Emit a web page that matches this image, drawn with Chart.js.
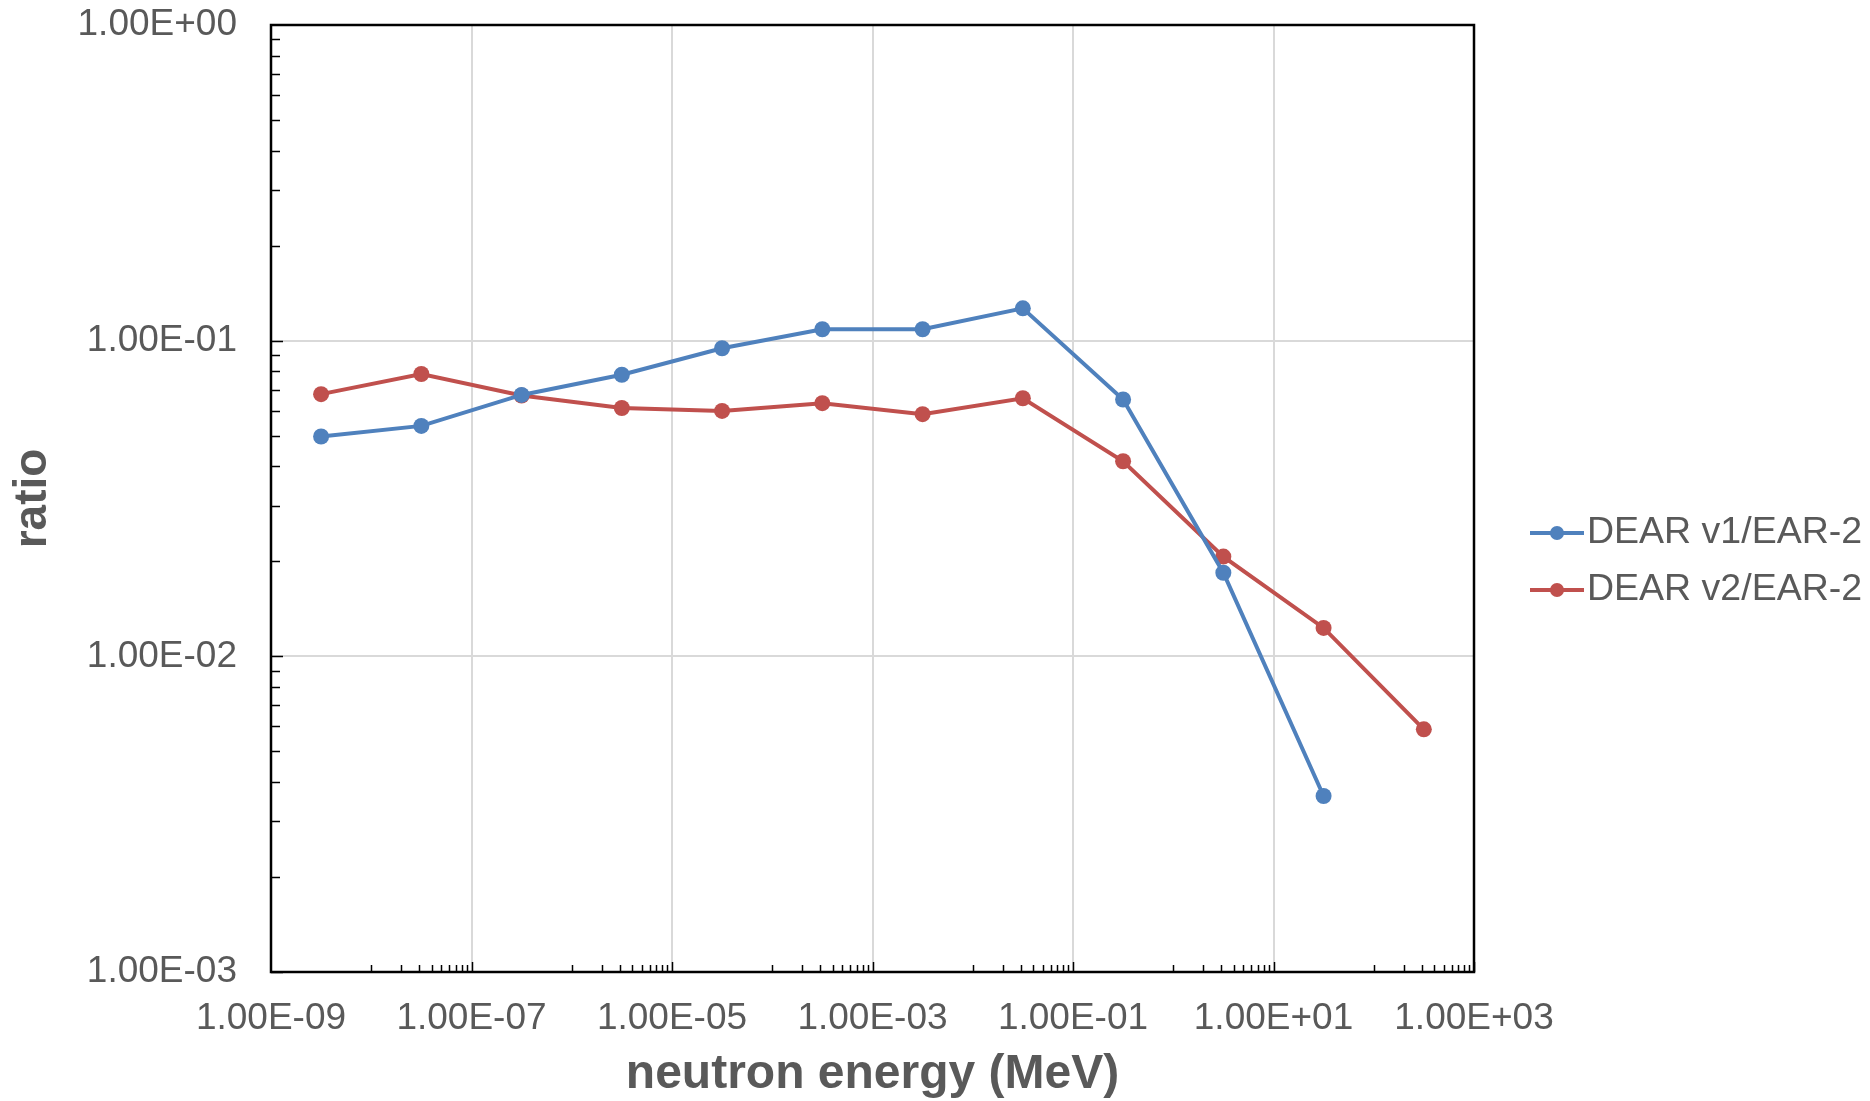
<!DOCTYPE html>
<html>
<head>
<meta charset="utf-8">
<script src="https://cdn.jsdelivr.net/npm/chart.js@4.4.1/dist/chart.umd.min.js"></script>
<style>
  html, body { margin: 0; padding: 0; background: #fff; }
  #wrap { width: 1870px; height: 1101px; }
</style>
</head>
<body>
<div id="wrap"><canvas id="ratioChart" width="1870" height="1101"></canvas></div>
<script>
// neutron energy (MeV) at the group points
const energies = [3.16e-9, 3.16e-8, 3.16e-7, 3.16e-6, 3.16e-5, 3.16e-4, 3.16e-3, 3.16e-2, 3.16e-1, 3.16, 31.6, 316]
const v1Ratio = [0.0497, 0.0537, 0.0673, 0.0780, 0.0946, 0.1087, 0.1087, 0.1266, 0.0651, 0.0184, 0.00361]
const v2Ratio = [0.0677, 0.0784, 0.0670, 0.0612, 0.0599, 0.0634, 0.0585, 0.0657, 0.0415, 0.0207, 0.0123, 0.00587]
const seriesNames = ['DEAR v1/EAR-2', 'DEAR v2/EAR-2']
const seriesColors = ['#4f81bd', '#c0504d']
const xTickValues = [1e-9, 1e-7, 1e-5, 1e-3, 1e-1, 1e1, 1e3]
const yTickValues = [1e-3, 1e-2, 1e-1, 1]

const textGrey = '#595959'
const fontName = '"Liberation Sans", Arial, sans-serif'

function sci(v) {
    const exp = Math.floor(Math.log10(v) + 1e-9)
    const mant = (v / Math.pow(10, exp)).toFixed(2)
    return mant + 'E' + (exp < 0 ? '-' : '+') + String(Math.abs(exp)).padStart(2, '0')
}

function toPoints(values) {
    return values.map((y, i) => ({ x: energies[i], y: y }))
}

// small inward tick marks plus the black frame round the plot area
const frameTicks = {
    id: 'frameTicks',
    afterDatasetsDraw(chart) {
        const { ctx, chartArea: a, scales: { x, y } } = chart
        ctx.save()
        ctx.strokeStyle = '#000'
        ctx.lineWidth = 1.5
        ctx.beginPath()
        for (let d = -3; d < 0; d++) {
            for (let k = 1; k <= 9; k++) {
                const py = Math.round(y.getPixelForValue(k * Math.pow(10, d))) + 0.5
                const len = k === 1 ? 12 : 9
                ctx.moveTo(a.left, py)
                ctx.lineTo(a.left + len, py)
            }
        }
        for (let d = -8; d <= 2; d += 2) {
            for (let k = 1; k <= 9; k++) {
                const px = Math.round(x.getPixelForValue(k * Math.pow(10, d))) + 0.5
                ctx.moveTo(px, a.bottom)
                ctx.lineTo(px, a.bottom - 7)
            }
            const pm = Math.round(x.getPixelForValue(Math.pow(10, d + 1))) + 0.5
            ctx.moveTo(pm, a.bottom)
            ctx.lineTo(pm, a.bottom - 10)
        }
        ctx.stroke()
        ctx.lineWidth = 2.5
        ctx.strokeRect(a.left, a.top, a.right - a.left, a.bottom - a.top)
        ctx.restore()
    }
}

const sideLegend = {
    id: 'sideLegend',
    afterDraw(chart) {
        const ctx = chart.ctx
        chart.data.datasets.forEach((ds, i) => {
            const y = 533 + i * 57
            ctx.save()
            ctx.strokeStyle = ds.borderColor
            ctx.lineWidth = 4
            ctx.beginPath()
            ctx.moveTo(1530, y)
            ctx.lineTo(1584, y)
            ctx.stroke()
            ctx.fillStyle = ds.borderColor
            ctx.beginPath()
            ctx.arc(1557, y, 7, 0, 2 * Math.PI)
            ctx.fill()
            ctx.fillStyle = textGrey
            ctx.font = '37.5px ' + fontName
            ctx.textBaseline = 'middle'
            ctx.fillText(ds.label, 1587, y)
            ctx.restore()
        })
    }
}

const datasets = [v1Ratio, v2Ratio].map((vals, i) => ({
    label: seriesNames[i],
    data: toPoints(vals),
    borderColor: seriesColors[i],
    backgroundColor: seriesColors[i],
    borderWidth: 4,
    pointRadius: 8,
    pointBorderWidth: 0,
    pointBackgroundColor: seriesColors[i],
    tension: 0
}))

new Chart(document.getElementById('ratioChart'), {
    type: 'line',
    data: { datasets: datasets },
    options: {
        responsive: false,
        animation: false,
        devicePixelRatio: 1,
        layout: { padding: { top: 25, right: 396, left: 0, bottom: 0 } },
        plugins: {
            legend: { display: false },
            tooltip: { enabled: false }
        },
        scales: {
            x: {
                type: 'logarithmic',
                min: 1e-9,
                max: 1e3,
                afterBuildTicks: (scale) => { scale.ticks = xTickValues.map(v => ({ value: v })) },
                afterFit: (scale) => { scale.height = 129 },
                ticks: {
                    callback: (v) => sci(v),
                    color: textGrey,
                    font: { family: fontName, size: 37 },
                    padding: 25,
                    maxRotation: 0,
                    autoSkip: false
                },
                grid: { color: '#d9d9d9', lineWidth: 2, drawTicks: false },
                border: { display: false },
                title: {
                    display: true,
                    text: 'neutron energy (MeV)',
                    color: textGrey,
                    font: { family: fontName, size: 48, weight: 'bold', lineHeight: 1.1 },
                    padding: 0
                }
            },
            y: {
                type: 'logarithmic',
                min: 1e-3,
                max: 1,
                afterBuildTicks: (scale) => { scale.ticks = yTickValues.map(v => ({ value: v })) },
                afterFit: (scale) => {
                    scale.width = 271
                    scale.paddingTop = 0
                    scale.paddingBottom = 0
                },
                ticks: {
                    callback: (v) => sci(v),
                    color: textGrey,
                    font: { family: fontName, size: 37 },
                    padding: 34,
                    autoSkip: false
                },
                grid: { color: '#d9d9d9', lineWidth: 2, drawTicks: false },
                border: { display: false },
                title: {
                    display: true,
                    text: 'ratio',
                    color: textGrey,
                    font: { family: fontName, size: 46, weight: 'bold' },
                    padding: { top: 6, bottom: 0 }
                }
            }
        }
    },
    plugins: [frameTicks, sideLegend]
})
</script>
</body>
</html>
